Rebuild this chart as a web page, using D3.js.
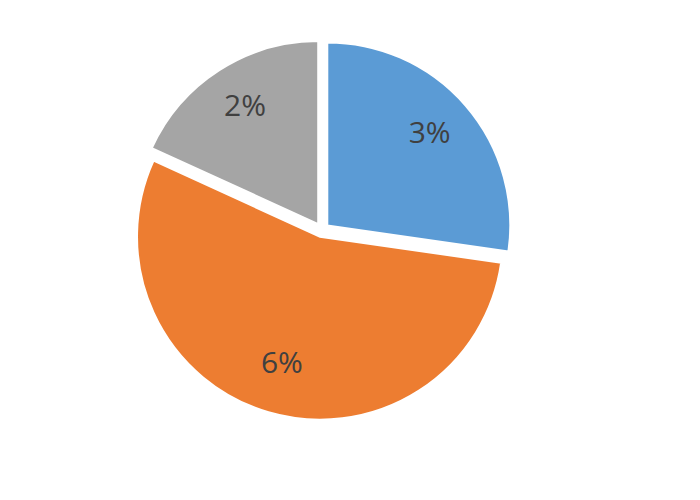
<!DOCTYPE html>
<html>
<head>
<meta charset="utf-8">
<script src="https://cdn.jsdelivr.net/npm/d3@7"></script>
<style>
  html, body { margin: 0; padding: 0; background: #ffffff; }
  svg { display: block; }
</style>
</head>
<body>
<svg id="chart" width="700" height="500"></svg>
<script>
const categories = ["A", "B", "C"];
const values = [3, 6, 2];
const labels = ["3%", "6%", "2%"];
const colors = ["#5B9BD5", "#ED7D31", "#A5A5A5"];

const svg = d3.select("#chart");
const cx = 322, cy = 230, r = 183, explode = 7;

const pie = d3.pie().sort(null).value(d => d.value);
const data = pie(categories.map((c, i) => ({ cat: c, value: values[i], label: labels[i], color: colors[i] })));

const arc = d3.arc().innerRadius(0).outerRadius(r);
const labelArc = d3.arc().innerRadius(r * 0.74).outerRadius(r * 0.74);

const g = svg.append("g").attr("transform", `translate(${cx},${cy})`);

const slices = g.selectAll("g.slice").data(data).join("g")
  .attr("class", "slice")
  .attr("transform", d => {
    const a = (d.startAngle + d.endAngle) / 2;
    return `translate(${Math.sin(a) * explode},${-Math.cos(a) * explode})`;
  });

slices.append("path")
  .attr("d", arc)
  .attr("fill", d => d.data.color)
  .attr("stroke", "#ffffff")
  .attr("stroke-width", 2);

slices.append("text")
  .attr("transform", d => `translate(${labelArc.centroid(d)})`)
  .attr("text-anchor", "middle")
  .attr("dy", "0.2em")
  .attr("font-family", "'Open Sans', 'Liberation Sans', sans-serif")
  .attr("font-size", 30)
  .attr("fill", "#404040")
  .text(d => d.data.label);
</script>
</body>
</html>
